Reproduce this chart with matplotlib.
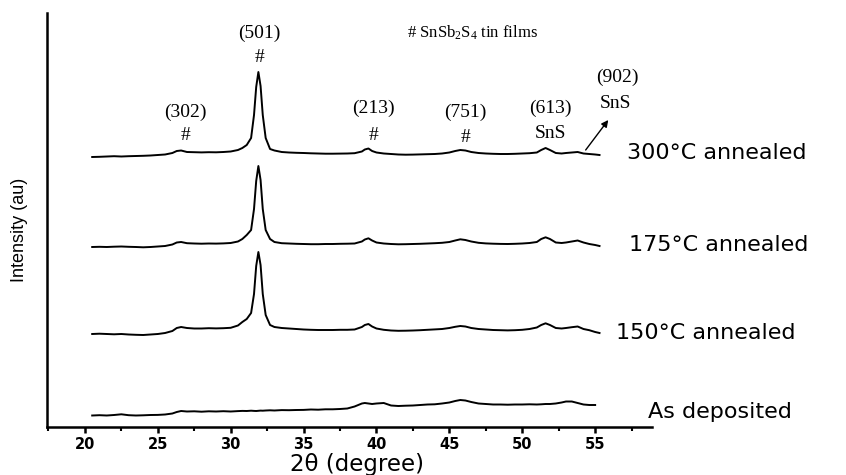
import matplotlib
matplotlib.use("Agg")
import matplotlib.pyplot as plt
from matplotlib.ticker import MultipleLocator

plt.rcParams["mathtext.fontset"] = "custom"
plt.rcParams["mathtext.rm"] = "Liberation Serif"
plt.rcParams["mathtext.it"] = "Liberation Serif:italic"

# 2-theta sampling positions (degree)
two_theta = [20.5, 21.0, 21.5, 22.0, 22.5, 23.0, 23.5, 24.0, 24.5, 25.0,
             25.5, 26.0, 26.3, 26.6, 27.0, 27.5, 28.0, 28.5, 29.0, 29.5,
             30.0, 30.5, 30.8, 31.1, 31.4, 31.6, 31.75, 31.9, 32.05, 32.2,
             32.4, 32.7, 33.0, 33.5, 34.0, 34.5, 35.0, 35.5, 36.0, 36.5,
             37.0, 37.5, 38.0, 38.5, 39.0, 39.2, 39.45, 39.7, 40.0, 40.5,
             41.0, 41.5, 42.0, 42.5, 43.0, 43.5, 44.0, 44.5, 45.0, 45.4,
             45.75, 46.1, 46.5, 47.0, 47.5, 48.0, 48.5, 49.0, 49.5, 50.0,
             50.5, 51.0, 51.3, 51.6, 51.9, 52.3, 52.7, 53.0, 53.4, 53.8,
             54.2, 54.6, 55.0, 55.3]

# Diffracted intensity (arbitrary units) for each film
as_deposited = [0, 0.3, 0, 0.5, 1.2, 0.3, 0, 0.2, 0.5, 0.6,
                1, 2, 3.5, 4.5, 4, 4.2, 3.8, 4.2, 4, 4.3,
                4, 4.4, 4.6, 4.5, 4.8, 4.6, 4.5, 4.7, 4.9, 4.8,
                5, 5.2, 5, 5.4, 5.3, 5.5, 5.6, 6, 5.8, 6.2,
                6.2, 6.5, 7, 9, 12, 12.5, 12, 11.5, 12, 12.5,
                10, 9.5, 9.8, 10, 10.5, 11, 11.2, 12, 13, 14.5,
                15.5, 15, 13.5, 12, 11.5, 11, 11, 10.8, 11, 11,
                11.2, 11, 11.2, 11.5, 11.5, 12, 13, 14, 14, 12.5,
                11, 10.5, 10.5]

annealed_150 = [0, 0.3, 0, -0.3, 0, -0.5, -0.8, -1, -0.5, 0,
                1, 3, 6, 7, 6, 5.5, 5.5, 5.8, 5.6, 5.8,
                6.2, 8.5, 12, 15, 21, 40, 68, 82, 69, 40,
                19, 9, 7, 6, 5.5, 5, 4.5, 4.2, 4, 4,
                4, 4.2, 4.2, 4.5, 7, 9, 10, 7.5, 5.5, 4.2,
                3.5, 3.2, 3.3, 3.5, 3.8, 4.2, 4.6, 5, 6, 7.2,
                8, 7.5, 6, 5, 4.5, 4, 3.8, 3.6, 3.8, 4.2,
                5, 6.5, 9, 10.7, 9, 6, 5.5, 6, 6.8, 7.5,
                5, 3.8, 2, 1]

annealed_175 = [0, 0.2, 0, 0.3, 0.5, 0.2, 0, -0.3, 0, 0.5,
                1, 2.5, 4.5, 5, 3.8, 3.5, 3.3, 3.5, 3.4, 3.6,
                4, 5.5, 8, 12, 17, 38, 66, 81, 67, 38,
                17, 8, 5, 3.8, 3.5, 3.2, 3, 2.8, 2.8, 3,
                3, 3.2, 3.3, 3.5, 5.5, 7.5, 8.7, 6.5, 4.5, 3.5,
                3, 2.7, 2.8, 3, 3.2, 3.5, 3.8, 4.2, 5, 6.5,
                7.7, 7, 5.5, 4.2, 3.6, 3.3, 3.1, 3, 3.2, 3.5,
                4, 5, 8, 9.7, 8, 4.5, 4, 4.5, 5.5, 6.5,
                4.5, 3, 2, 1]

annealed_300 = [0, 0.2, 0.5, 0.8, 0.5, 0.8, 1, 1.2, 1.5, 2,
                2.5, 4, 6, 6.5, 5, 4.8, 4.6, 4.8, 4.7, 5,
                5.5, 7, 9, 12, 19, 42, 70, 85, 71, 42,
                19, 8, 6.5, 5, 4.5, 4.2, 4, 3.7, 3.5, 3.3,
                3.3, 3.4, 3.5, 3.8, 5.5, 7.5, 8.5, 6, 4.5, 3.5,
                3, 2.5, 2.3, 2.4, 2.6, 2.8, 3, 3.5, 4.5, 6,
                7, 6.5, 5, 4, 3.5, 3.2, 3, 3, 3.2, 3.5,
                3.8, 4.5, 7, 9, 7, 4, 3.5, 4, 4.5, 5,
                3.5, 3, 2.5, 2]

series_labels = ["As deposited", "150°C annealed", "175°C annealed", "300°C annealed"]
series_values = [as_deposited, annealed_150, annealed_175, annealed_300]

# Vertical stacking of the patterns
stack_offsets = [11.5, 93, 180, 270]

fig = plt.figure(figsize=(8.46, 4.75), dpi=100)
ax = fig.add_axes([47 / 846, 1 - 427 / 475, (652 - 47) / 846, (427 - 13) / 475])

for vals, off in zip(series_values, stack_offsets):
    xs = two_theta[:len(vals)]
    ax.plot(xs, [v + off for v in vals], color="black", lw=1.4, solid_joinstyle="round")

ax.set_xlim(17.4, 58.9)
ax.set_ylim(0, 414)

for side in ("top", "right"):
    ax.spines[side].set_visible(False)
for side in ("left", "bottom"):
    ax.spines[side].set_linewidth(1.8)

ax.set_yticks([])
ax.xaxis.set_major_locator(MultipleLocator(5))
ax.xaxis.set_minor_locator(MultipleLocator(2.5))
ax.tick_params(axis="x", which="major", direction="out", length=4, width=1.8, pad=3)
ax.tick_params(axis="x", which="minor", direction="out", length=3, width=1.5)
ax.set_xticks([20, 25, 30, 35, 40, 45, 50, 55])
ax.set_xticklabels(["20", "25", "30", "35", "40", "45", "50", "55"],
                   fontsize=10.5, fontweight="bold", family="DejaVu Sans")

ax.set_xlabel("2θ (degree)", fontsize=16.5, family="DejaVu Sans")
ax.xaxis.set_label_coords((357 - 47) / (652 - 47), (427 - 464) / 414)
ax.xaxis.label.set_va("center")

fig.text(20 / 846, 1 - 230 / 475, "Intensity (au)", rotation=90, ha="center", va="center",
         fontsize=13, family=["Liberation Sans Narrow", "Liberation Sans"])

# Sample names at the end of each pattern
label_pos = [(58.6, 15), (56.4, 94), (57.3, 182), (57.2, 274)]
for name, (lx, ly) in zip(series_labels, label_pos):
    ax.text(lx, ly, name, fontsize=16, family="DejaVu Sans", ha="left", va="center",
            clip_on=False)

# Reflection indices
serif = "Liberation Serif"
peak_marks = [
    ("(302)", "#", 26.9, 315, 292),
    ("(501)", "#", 31.97, 394, 369),
    ("(213)", "#", 39.8, 319, 292),
    ("(751)", "#", 46.1, 315, 290),
    ("(613)", "SnS", 51.95, 319, 294),
]
for hkl, phase, px, hy, py in peak_marks:
    ax.text(px, hy, hkl, fontsize=14, family=serif, ha="center", va="center")
    ax.text(px, py, phase, fontsize=14, family=serif, ha="center", va="center")

ax.text(56.5, 350, "(902)", fontsize=14, family=serif, ha="center", va="center", clip_on=False)
ax.text(56.4, 324, "SnS", fontsize=14, family=serif, ha="center", va="center", clip_on=False)
ax.annotate("", xy=(55.9, 307), xytext=(54.35, 277),
            arrowprops=dict(arrowstyle="-|>", color="black", lw=1.0,
                            mutation_scale=10, shrinkA=0, shrinkB=0))

ax.text(46.6, 394, r"# SnSb$_2$S$_4$ tin films", fontsize=12, family=serif,
        ha="center", va="center")

fig.savefig("out.png", dpi=100)
